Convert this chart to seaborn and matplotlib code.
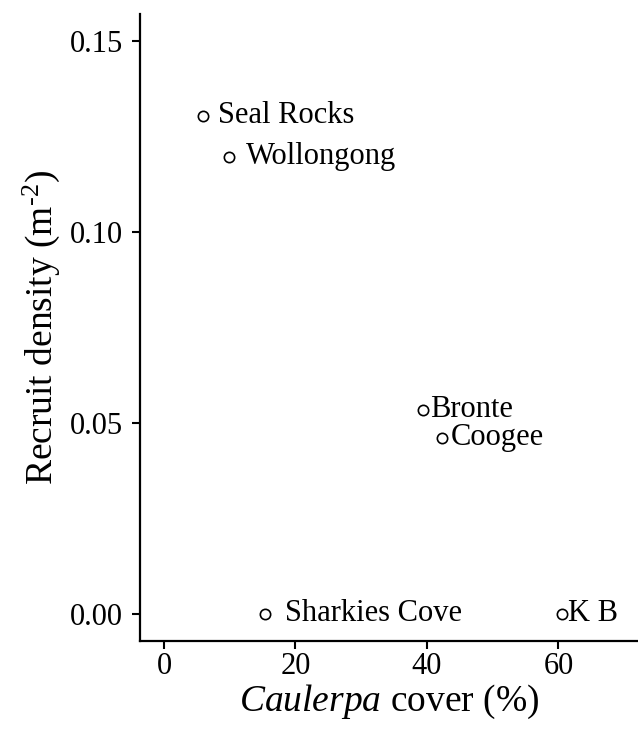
import matplotlib
matplotlib.use("Agg")
import matplotlib.pyplot as plt
import seaborn as sns
import pandas as pd

sites = ["Seal Rocks", "Wollongong", "Bronte", "Coogee", "Sharkies Cove", "K B"]
caulerpa_cover = [5.9, 9.9, 39.4, 42.3, 15.4, 60.6]
recruit_density = [0.1304, 0.1196, 0.0534, 0.0461, 0.0, 0.0]
label_offsets = [(11, 0), (12, 0), (5, 0), (6, 0), (14, 0), (4, 0)]
x_ticks = [0, 20, 40, 60]
y_ticks = [0.00, 0.05, 0.10, 0.15]

df = pd.DataFrame({"site": sites, "cover": caulerpa_cover, "density": recruit_density})

sns.set_style("ticks")
plt.rcParams["font.family"] = ["Liberation Serif", "DejaVu Serif"]
plt.rcParams["mathtext.fontset"] = "custom"
plt.rcParams["mathtext.rm"] = "Liberation Serif"
plt.rcParams["mathtext.it"] = "Liberation Serif:italic"

fig = plt.figure(figsize=(6.38, 7.31), dpi=100)
ax = fig.add_axes([0.2194, 0.1231, 0.7806, 0.8577])

sns.scatterplot(data=df, x="cover", y="density", ax=ax, s=55,
                facecolor="white", edgecolor="black", linewidth=1.2, zorder=3)

for s, x, y, off in zip(sites, caulerpa_cover, recruit_density, label_offsets):
    ax.annotate(s, (x, y), xytext=off, textcoords="offset points",
                ha="left", va="center", fontsize=22, color="black")

ax.set_xlim(-3.65, 72.1)
ax.set_ylim(-0.00707, 0.157)
ax.set_xticks(x_ticks)
ax.set_xticklabels([str(t) for t in x_ticks])
ax.set_yticks(y_ticks)
ax.set_yticklabels([f"{t:.2f}" for t in y_ticks])
ax.tick_params(axis="both", labelsize=22, length=6, width=1.5, color="black",
               labelcolor="black", pad=6)
ax.tick_params(axis="x", pad=2)
for side in ["left", "bottom"]:
    ax.spines[side].set_linewidth(1.6)
    ax.spines[side].set_color("black")
for side in ["top", "right"]:
    ax.spines[side].set_visible(False)

ax.set_xlabel(r"$\mathit{Caulerpa}$ cover (%)", fontsize=27, labelpad=1, color="black")
ax.set_ylabel(r"Recruit density (m$^{\text{-2}}$)", fontsize=27, labelpad=6, color="black")

fig.savefig("out.png", dpi=100)
